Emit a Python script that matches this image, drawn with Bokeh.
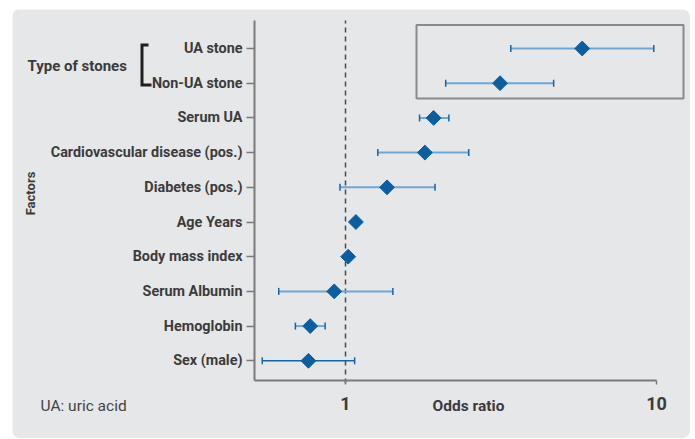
import math
from bokeh.plotting import figure
from bokeh.models import Range1d, FixedTicker, ColumnDataSource
from bokeh.core.properties import value
from bokeh.embed import file_html
from bokeh.resources import INLINE

# ---------------- data ----------------
factors = ["UA stone", "Non-UA stone", "Serum UA", "Cardiovascular disease (pos.)",
           "Diabetes (pos.)", "Age Years", "Body mass index", "Serum Albumin",
           "Hemoglobin", "Sex (male)"]
odds_ratio = [5.77, 3.14, 1.92, 1.80, 1.36, 1.08, 1.02, 0.92, 0.77, 0.76]
ci_lower = [3.40, 2.10, 1.73, 1.27, 0.96, 1.065, 1.005, 0.61, 0.69, 0.54]
ci_upper = [9.80, 4.67, 2.15, 2.49, 1.94, 1.095, 1.035, 1.42, 0.86, 1.07]
row_pos = [10, 9, 8, 7, 6, 5, 4, 3, 2, 1]
x_ticks = [1, 10]
group_label = "Type of stones"
note_text = "UA: uric acid"
x_title = "Odds ratio"
y_title = "Factors"

# ---------------- styles / layout ----------------
BG = "#e6e7e9"
AXIS = "#7a7a7a"
TXT = "#3b3b3b"
DIAMOND = "#0b5e9f"
CAP = "#1763a4"
LIGHT = "#6ea8d6"
line_colors = [LIGHT] * 9 + [CAP]
line_widths = [2] * 9 + [1.5]
FONT = "Roboto"

W, H = 678, 429
X_ONE_PX, DEC_PX = 333, 311      # pixel of odds ratio 1, pixels per decade
ROW10_PX, ROW_PX = 39, 34.7      # pixel of the top row, pixels per row


def px2x(px):
    return 10 ** ((px - X_ONE_PX) / DEC_PX)


def py2y(py):
    return 10 + (ROW10_PX - py) / ROW_PX


AX_X = px2x(242)     # where the y axis sits
AX_Y = py2y(371)     # where the x axis sits
TOP_Y = py2y(11)

p = figure(width=W, height=H, x_axis_type="log",
           x_range=Range1d(px2x(0), px2x(W)), y_range=Range1d(py2y(H), py2y(0)),
           output_backend="svg", toolbar_location=None,
           min_border=0)
p.styles = {"margin-left": "12px", "margin-top": "9px",
            "border-radius": "8px", "overflow": "hidden"}
p.background_fill_color = BG
p.border_fill_color = BG
p.outline_line_color = None
p.grid.visible = False

src = ColumnDataSource(dict(y=row_pos, orr=odds_ratio, lo=ci_lower, hi=ci_upper,
                            lc=line_colors, lw=line_widths))

# reference line at odds ratio 1
p.segment(x0=[1], x1=[1], y0=[py2y(374)], y1=[TOP_Y], line_color="#4a4a4a",
          line_width=1.5, line_dash="5 4")

# box around the type-of-stones rows
p.quad(left=[px2x(404)], right=[px2x(671)], top=[py2y(15.5)], bottom=[py2y(89)],
       fill_color=None, line_color="#8a8a8a", line_width=2)

# error bars
p.segment(x0="lo", x1="hi", y0="y", y1="y", source=src,
          line_color="lc", line_width="lw")
for col in ("lo", "hi"):
    p.scatter(x=col, y="y", source=src, marker="dash", angle=math.pi / 2,
              size=7, line_color=CAP, line_width=1.5)

# diamonds
p.scatter(x="orr", y="y", source=src, marker="square", angle=math.pi / 4,
          size=10.5, fill_color=DIAMOND, line_color=DIAMOND)

# y axis
ya = p.yaxis[0]
ya.fixed_location = AX_X
ya.bounds = (AX_Y, TOP_Y)
ya.ticker = FixedTicker(ticks=row_pos)
ya.major_label_overrides = {r: f for r, f in zip(row_pos, factors)}
ya.minor_tick_line_color = None
ya.axis_line_color = AXIS
ya.axis_line_width = 2
ya.major_tick_line_color = AXIS
ya.major_tick_line_width = 1.5
ya.major_tick_out = 8
ya.major_tick_in = 0
ya.major_label_standoff = 4
ya.major_label_text_font = FONT
ya.major_label_text_font_style = "bold"
ya.major_label_text_font_size = "14.4px"
ya.major_label_text_color = TXT

# x axis
xa = p.xaxis[0]
xa.fixed_location = AX_Y
xa.bounds = (AX_X, 10)
xa.ticker = FixedTicker(ticks=x_ticks)
xa.major_label_overrides = {t: str(t) for t in x_ticks}
xa.minor_tick_line_color = None
xa.axis_line_color = AXIS
xa.axis_line_width = 2
xa.major_tick_line_color = AXIS
xa.major_tick_line_width = 1.5
xa.major_tick_out = 4
xa.major_tick_in = 0
xa.major_label_standoff = 12
xa.major_label_text_font = FONT
xa.major_label_text_font_style = "bold"
xa.major_label_text_font_size = "18px"
xa.major_label_text_color = TXT

# texts
p.text(x=[px2x(456)], y=[py2y(396)], text=[x_title], text_align="center",
       text_baseline="middle", text_font=value(FONT), text_font_style="bold",
       text_font_size="15.5px", text_color=TXT)
p.text(x=[px2x(18)], y=[py2y(184)], text=[y_title], angle=math.pi / 2,
       text_align="center", text_baseline="middle", text_font=value(FONT),
       text_font_style="bold", text_font_size="13px", text_color=TXT)
p.text(x=[px2x(28)], y=[py2y(396)], text=[note_text], text_align="left",
       text_baseline="middle", text_font=value(FONT),
       text_font_size="15.5px", text_color="#444444")
p.text(x=[px2x(15)], y=[py2y(56)], text=[group_label], text_align="left",
       text_baseline="middle", text_font=value(FONT), text_font_style="bold",
       text_font_size="15px", text_color=TXT)

# bracket
bx = [128, 136, 136, 131, 131, 139, 139, 128]
by = [34, 34, 37, 37, 74, 74, 77, 77]
p.patch(x=[px2x(v) for v in bx], y=[py2y(v) for v in by],
        fill_color="#1f1f1f", line_color=None)

open("out.html", "w").write(file_html(p, INLINE))
